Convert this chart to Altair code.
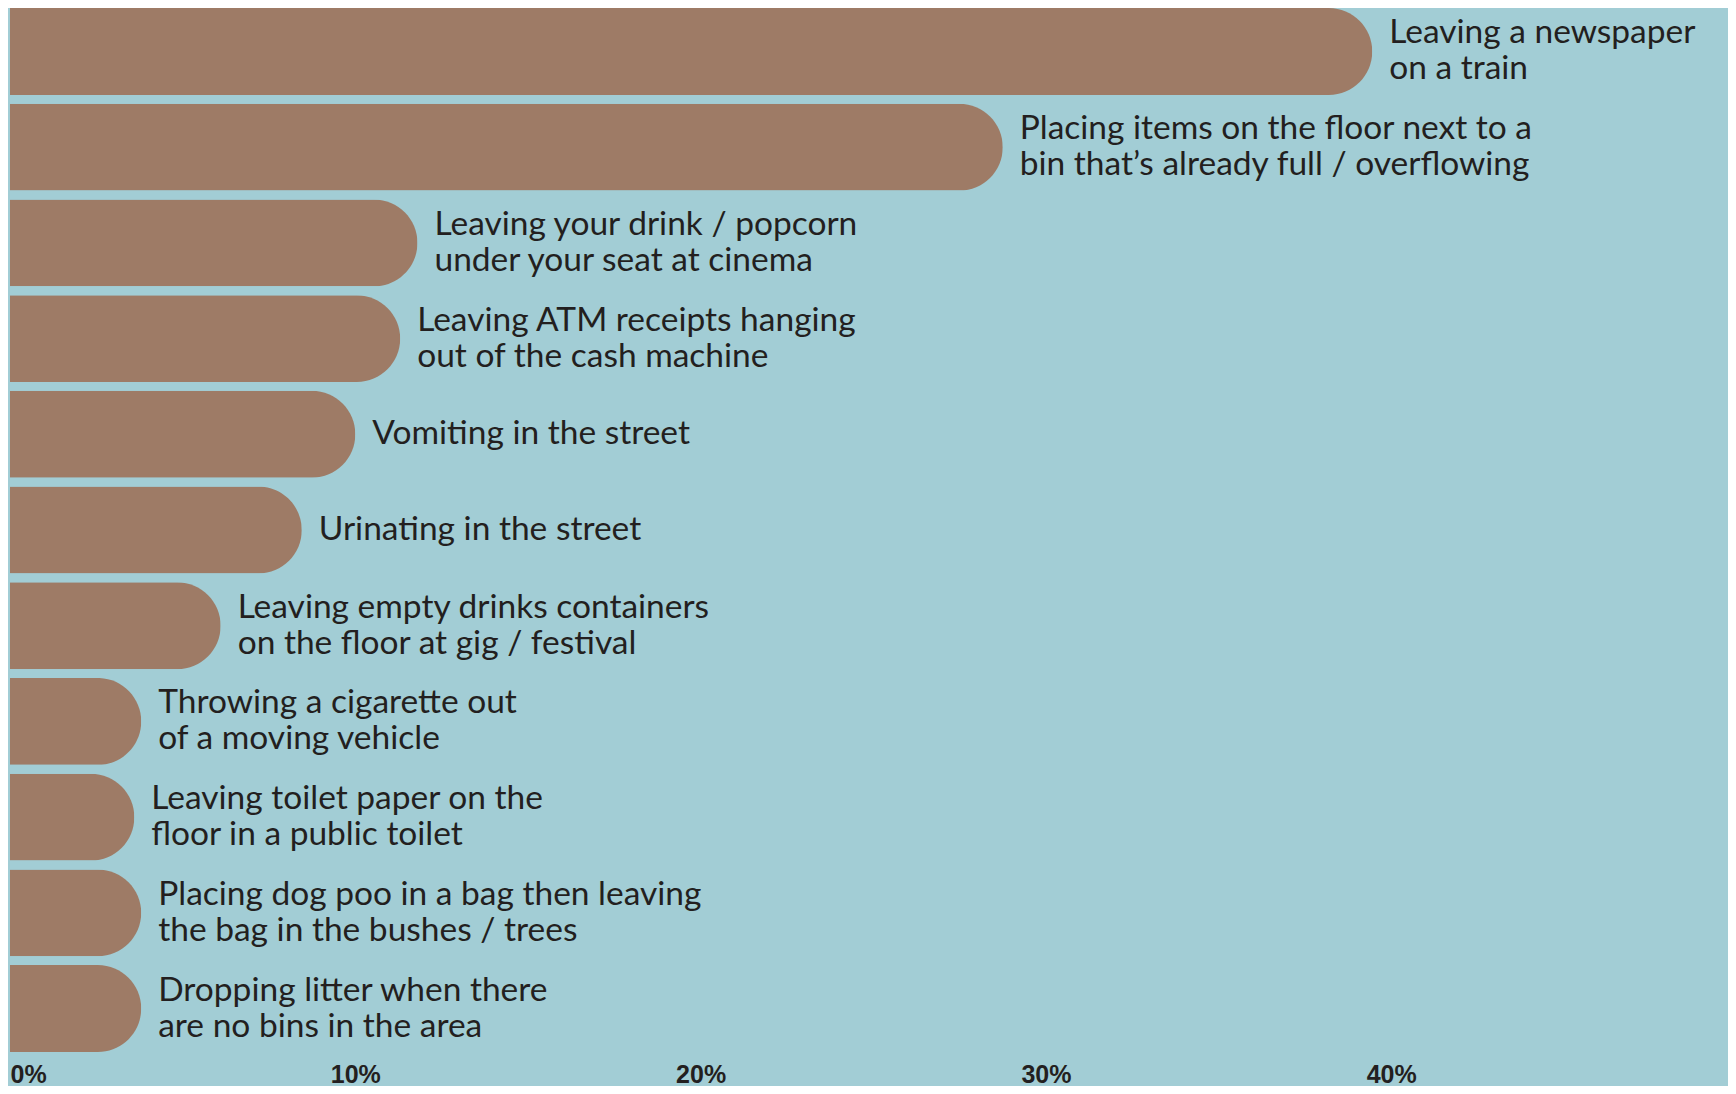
import altair as alt
import pandas as pd

behaviours = [
    "Leaving a newspaper\non a train",
    "Placing items on the floor next to a\nbin that\u2019s already full / overflowing",
    "Leaving your drink / popcorn\nunder your seat at cinema",
    "Leaving ATM receipts hanging\nout of the cash machine",
    "Vomiting in the street",
    "Urinating in the street",
    "Leaving empty drinks containers\non the floor at gig / festival",
    "Throwing a cigarette out\nof a moving vehicle",
    "Leaving toilet paper on the\nfloor in a public toilet",
    "Placing dog poo in a bag then leaving\nthe bag in the bushes / trees",
    "Dropping litter when there\nare no bins in the area",
]
percentages = [39.45, 28.75, 11.8, 11.3, 10.0, 8.45, 6.1, 3.8, 3.6, 3.8, 3.8]
tick_values = [0, 10, 20, 30, 40]

BAR = "#9e7b66"
BG = "#a2cdd5"
INK = "#231f20"
LINE_H = 36

df = pd.DataFrame(
    {
        "behaviour": behaviours,
        "pct": percentages,
        "nlines": [b.count("\n") + 1 for b in behaviours],
    }
)

y = alt.Y(
    "behaviour:N",
    sort=behaviours,
    axis=None,
    scale=alt.Scale(paddingInner=0.092, paddingOuter=0),
)
x = alt.X(
    "pct:Q",
    scale=alt.Scale(domain=[0, 49], nice=False, zero=True),
    axis=alt.Axis(
        values=tick_values,
        labelExpr="datum.value + '%'",
        title=None,
        domain=False,
        ticks=False,
        grid=False,
        labelFont="Liberation Sans",
        labelFontWeight="bold",
        labelFontSize=25,
        labelColor=INK,
        labelPadding=10,
        labelFlush=True,
    ),
)

bars = alt.Chart(df).mark_bar(color=BAR, cornerRadiusEnd=43.5).encode(x=x, y=y)


def label_layer(n, dy):
    return (
        alt.Chart(df)
        .transform_filter(alt.datum.nlines == n)
        .mark_text(
            align="left",
            baseline="middle",
            dx=17,
            dy=dy,
            font="Lato",
            fontSize=33.5,
            lineHeight=LINE_H,
            lineBreak="\n",
            color=INK,
        )
        .encode(x="pct:Q", y=y, text="behaviour:N")
    )


text1 = label_layer(1, 0)
text2 = label_layer(2, -LINE_H / 2)

chart = (
    (bars + text1 + text2)
    .properties(
        width=1692,
        height=1044,
        autosize=alt.AutoSizeParams(type="none"),
        padding={"top": 0, "left": 2, "right": 26, "bottom": 34},
    )
    .configure(background=BG)
    .configure_view(strokeWidth=0)
)

chart.save("out.html", embed_options={"renderer": "svg", "actions": False})
